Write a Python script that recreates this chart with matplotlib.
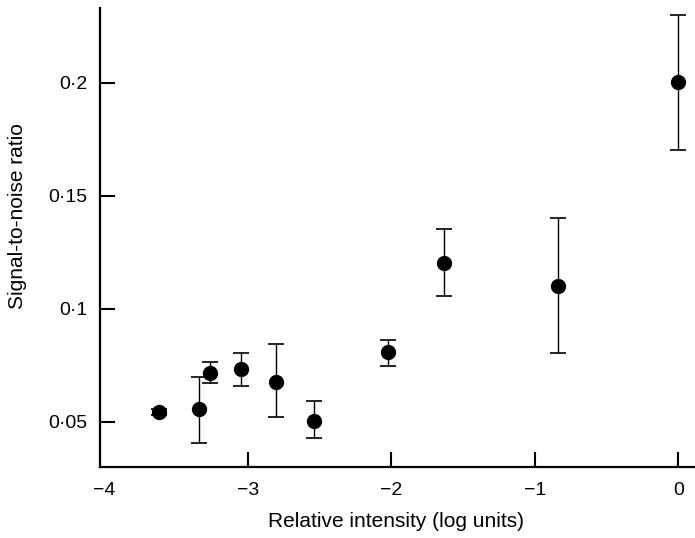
import matplotlib
matplotlib.use("Agg")
import matplotlib.pyplot as plt
import numpy as np

plt.rcParams['font.family'] = ['Liberation Sans', 'DejaVu Sans']

# Data
log_intensity = [-3.62, -3.34, -3.26, -3.05, -2.80, -2.54, -2.02, -1.635, -0.84, 0.0]
snr = [0.0543, 0.0558, 0.0717, 0.0734, 0.0677, 0.0504, 0.0808, 0.1202, 0.1100, 0.2003]
err_upper_val = [0.0555, 0.0696, 0.0765, 0.0802, 0.0843, 0.0590, 0.0861, 0.1352, 0.1402, 0.2299]
err_lower_val = [0.0531, 0.0407, 0.0670, 0.0658, 0.0522, 0.0426, 0.0746, 0.1055, 0.0805, 0.1704]

x_ticks = [-4, -3, -2, -1, 0]
x_tick_labels = ['\u22124', '\u22123', '\u22122', '\u22121', '0']
y_ticks = [0.05, 0.1, 0.15, 0.2]
y_tick_labels = ['0\u00b705', '0\u00b71', '0\u00b715', '0\u00b72']

snr_a = np.array(snr)
yerr = [snr_a - np.array(err_lower_val), np.array(err_upper_val) - snr_a]

fig = plt.figure(figsize=(6.95, 5.38), dpi=100)
ax = fig.add_axes([100/695, 1 - 466.7/538, 595/695, 458.7/538])

ax.errorbar(log_intensity, snr, yerr=yerr, fmt='o', color='black',
            markersize=10, ecolor='black', elinewidth=1.0, capsize=6,
            capthick=1.2, zorder=3)

ax.set_xlim(-4.03, 0.117)
ax.set_ylim(0.0301, 0.233)

for side in ['top', 'right']:
    ax.spines[side].set_visible(False)
for side in ['left', 'bottom']:
    ax.spines[side].set_linewidth(1.6)

ax.set_xticks(x_ticks)
ax.set_xticklabels(x_tick_labels)
ax.set_yticks(y_ticks)
ax.set_yticklabels(y_tick_labels)
ax.tick_params(direction='in', length=10.5, width=1.5, labelsize=14, color='black')
ax.tick_params(axis='x', pad=11)
ax.tick_params(axis='y', pad=9)
ax.xaxis.get_major_ticks()[0].tick1line.set_visible(False)

ax.set_xlabel('Relative intensity (log units)', fontsize=15)
ax.xaxis.set_label_coords(0.498, -0.12)
ax.xaxis.label.set_va('center')
ax.set_ylabel('Signal-to-noise ratio', fontsize=15)
ax.yaxis.set_label_coords(-0.139, 0.547)
ax.yaxis.label.set_va('center')

fig.savefig('out.png', dpi=100)
